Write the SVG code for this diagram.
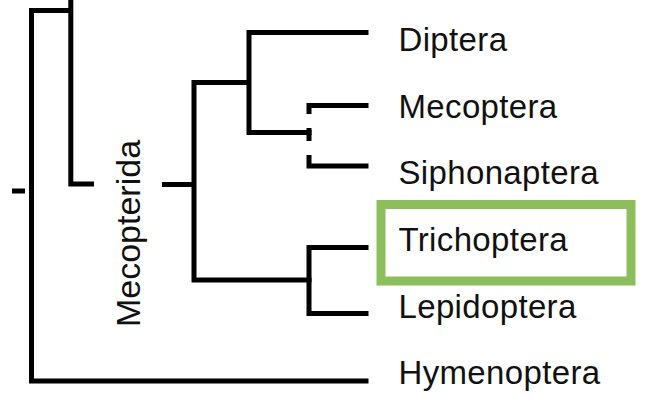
<svg xmlns="http://www.w3.org/2000/svg" width="664" height="402" viewBox="0 0 664 402">
  <style>
    .br { fill: none; stroke: #000; stroke-width: 5; stroke-linejoin: miter; stroke-linecap: butt; }
    .lbl { font-family: "Liberation Sans", Arial, Helvetica, sans-serif; font-size: 33px; fill: #111; letter-spacing: 0.35px; }
    .clade { font-family: "Liberation Sans", Arial, Helvetica, sans-serif; font-size: 34px; fill: #111; }
    .hl { fill: none; stroke: #8cbf5b; stroke-width: 9; }
  </style>
  <rect width="664" height="402" fill="#fff"/>
  <g id="connectors">
    <path class="br" d="M12,191 H25" stroke-width="6"/>
    <path class="br" d="M368.5,381 H31.5 V10.5 H73"/>
    <path class="br" d="M70.8,0 V184 H94"/>
    <path class="br" d="M162,184.5 H196"/>
    <path class="br" d="M251,82.5 H194 V280 H311.5"/>
    <path class="br" d="M368.5,32.5 H249 V132.5 H311.5"/>
    <path class="br" d="M368.5,105.5 H309 V114"/>
    <path class="br" d="M309,128 V141"/>
    <path class="br" d="M309,155 V166 H368.5"/>
    <path class="br" d="M368.5,247.5 H309 V313.5 H368.5"/>
  </g>
  <g id="clade-mecopterida">
    <text class="clade" transform="translate(140,233.5) rotate(-90)" text-anchor="middle">Mecopterida</text>
  </g>
  <g id="node-diptera"><text class="lbl" x="398.5" y="51">Diptera</text></g>
  <g id="node-mecoptera"><text class="lbl" x="398.5" y="117.7">Mecoptera</text></g>
  <g id="node-siphonaptera"><text class="lbl" x="398.5" y="184.3">Siphonaptera</text></g>
  <g id="node-trichoptera">
    <rect class="hl" x="381" y="204.5" width="250" height="76.5"/>
    <text class="lbl" x="398.5" y="251">Trichoptera</text>
  </g>
  <g id="node-lepidoptera"><text class="lbl" x="398.5" y="317.7">Lepidoptera</text></g>
  <g id="node-hymenoptera"><text class="lbl" x="398.5" y="384.3">Hymenoptera</text></g>
</svg>
